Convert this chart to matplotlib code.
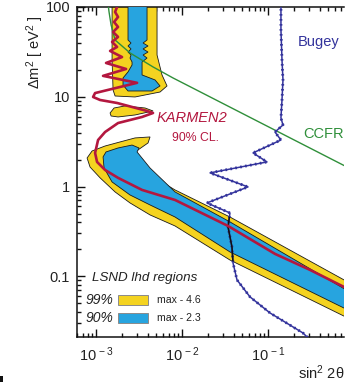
import matplotlib
matplotlib.use("Agg")
import matplotlib.pyplot as plt
from matplotlib.patches import Polygon, Rectangle
from matplotlib.ticker import LogLocator, FixedLocator, FixedFormatter, NullFormatter

plt.rcParams['font.family'] = ['Liberation Sans', 'DejaVu Sans']
plt.rcParams['mathtext.fontset'] = 'custom'
plt.rcParams['mathtext.rm'] = 'Liberation Sans'
plt.rcParams['mathtext.it'] = 'Liberation Sans:italic'
plt.rcParams['mathtext.bf'] = 'Liberation Sans:bold'

# ---- LSND likelihood regions: (sin^2 2theta, dm^2 [eV^2]) outlines ----
lsnd99_high_x = [1.535e-3, 1.535e-3, 1.577e-3, 1.664e-3, 2.84e-3, 5.55e-3, 6.69e-3, 5.85e-3, 5.12e-3, 5.12e-3]
lsnd99_high_y = [150, 25.7, 11.9, 10.2, 9.95, 11.3, 13.2, 17.5, 29.2, 150]

lsnd90_high_x = [2.353e-3, 2.353e-3, 2.550e-3, 2.353e-3, 2.550e-3, 2.353e-3, 2.550e-3, 2.483e-3, 2.621e-3,
                 2.621e-3, 2.353e-3, 2.059e-3, 2.059e-3, 2.353e-3, 4.479e-3, 5.55e-3, 4.853e-3, 3.428e-3,
                 3.428e-3, 3.428e-3, 3.917e-3, 3.521e-3, 4.023e-3, 3.521e-3, 4.023e-3, 3.521e-3, 3.917e-3, 3.917e-3]
lsnd90_high_y = [150, 42.9, 39.7, 36.8, 34.1, 31.5, 29.2, 27.0, 24.4,
                 22.6, 18.9, 16.2, 13.5, 11.6, 11.6, 13.2, 15.4, 17.5,
                 22.6, 24.4, 27.0, 29.2, 31.5, 34.1, 36.8, 39.7, 42.9, 150]

lsnd99_island_x = [1.456e-3, 1.619e-3, 2.172e-3, 3.715e-3, 4.600e-3, 2.840e-3, 1.802e-3, 1.495e-3]
lsnd99_island_y = [6.60, 7.50, 7.91, 7.50, 6.95, 6.27, 5.96, 6.11]

lsnd99_low_x = [7.86e-4, 8.98e-4, 1.273e-3, 1.900e-3, 2.840e-3, 4.245e-3, 4.023e-3, 3.078e-3, 2.483e-3,
                3.428e-3, 5.55e-3, 8.29e-3, 3.61e-2, 1.0, 1.0, 3.61e-2, 8.29e-3, 4.245e-3, 2.483e-3,
                1.664e-3, 1.114e-3, 8.51e-4]
lsnd99_low_y = [2.08, 2.49, 2.83, 3.14, 3.48, 3.57, 3.06, 2.56, 2.19,
                1.65, 1.155, 0.917, 0.458, 0.0793, 0.0318, 0.152, 0.364, 0.483, 0.657,
                0.871, 1.25, 1.65]

lsnd90_low_x = [1.206e-3, 1.306e-3, 1.802e-3, 2.621e-3, 3.162e-3, 2.998e-3, 4.245e-3, 8.29e-3, 3.61e-2,
                1.0, 1.0, 3.61e-2, 8.29e-3, 4.245e-3, 2.483e-3, 1.535e-3, 1.239e-3]
lsnd90_low_y = [2.14, 2.43, 2.69, 2.90, 2.69, 2.43, 1.61, 0.871, 0.404,
                0.0628, 0.0391, 0.187, 0.458, 0.624, 0.806, 1.125, 1.61]

# ---- exclusion curves ----
karmen_x = [1.755e-3, 1.755e-3, 1.664e-3, 1.802e-3, 1.619e-3, 1.802e-3, 1.577e-3, 1.802e-3, 1.535e-3,
            1.755e-3, 1.456e-3, 2.005e-3, 1.306e-3, 2.234e-3, 1.206e-3, 2.998e-3, 9.74e-4, 9.23e-4,
            1.114e-3, 1.755e-3, 3.917e-3, 4.600e-3, 3.428e-3, 1.802e-3, 1.273e-3, 1.055e-3, 9.74e-4,
            1.027e-3, 1.273e-3, 1.802e-3, 3.428e-3, 8.29e-3, 3.43e-2, 0.1205, 0.308, 1.0]
karmen_y = [150, 100, 88.0, 77.4, 68.1, 59.9, 52.7, 46.4, 40.8,
            35.9, 32.4, 27.7, 23.8, 20.4, 17.1, 14.3, 11.0, 9.95,
            9.21, 8.53, 6.95, 6.60, 5.96, 5.10, 4.05, 3.30, 2.37,
            1.88, 1.53, 1.25, 0.917, 0.709, 0.364, 0.178, 0.118, 0.0670]

ccfr_x = [1.36e-3, 1.416e-3, 1.495e-3, 1.664e-3, 2.483e-3, 4.600e-3, 7.86e-3, 0.745, 1.0]
ccfr_y = [119.7, 88.0, 63.1, 42.9, 30.8, 21.5, 16.2, 1.74, 1.51]

bugey_x = [0.1415, 0.1415, 0.1455, 0.1494, 0.1455, 0.1415, 0.1494, 0.1205, 0.1415, 0.0670, 0.0973,
           0.0212, 0.0585, 0.0195, 0.0361, 0.0343, 0.0381, 0.0392, 0.0436, 0.0618, 0.1055, 0.255, 0.308]
bugey_y = [150, 55.5, 25.7, 15.4, 9.21, 5.81, 4.85, 4.05, 3.30, 2.37, 1.88,
           1.42, 0.991, 0.657, 0.508, 0.355, 0.212, 0.141, 0.0912, 0.0590, 0.0391, 0.0234, 0.0196]

yticks = [0.1, 1, 10, 100]
ytick_labels = ['0.1', '1', '10', '100']
xticks = [1e-3, 1e-2, 1e-1]
xtick_labels = [r'$\mathregular{10^{\,-3}}$', r'$\mathregular{10^{\,-2}}$', r'$\mathregular{10^{\,-1}}$']

YELLOW = '#f4d320'
BLUE = '#27a4df'
RED = '#b3173f'
GREEN = '#2f8f3a'
NAVY = '#33339c'

W, H = 349, 382
fig = plt.figure(figsize=(W / 100, H / 100), dpi=100)
fig.patch.set_facecolor('white')


def fx(p):
    return p / W


def fy(p):
    return 1 - p / H


ax = fig.add_axes([fx(77), fy(337), fx(344) - fx(77), fy(7) - fy(337)])
ax.set_xscale('log')
ax.set_yscale('log')
ax.set_xlim(6.0e-4, 0.766)
ax.set_ylim(0.0211, 100)

edge = dict(edgecolor='#1a1a1a', linewidth=0.6)
yellow_low = Polygon(list(zip(lsnd99_low_x, lsnd99_low_y)), closed=True, facecolor=YELLOW, zorder=2, **edge)
ax.add_patch(yellow_low)
ax.add_patch(Polygon(list(zip(lsnd99_high_x, lsnd99_high_y)), closed=True, facecolor=YELLOW, zorder=2, **edge))
ax.add_patch(Polygon(list(zip(lsnd99_island_x, lsnd99_island_y)), closed=True, facecolor=YELLOW, zorder=2, **edge))
ax.add_patch(Polygon(list(zip(lsnd90_low_x, lsnd90_low_y)), closed=True, facecolor=BLUE, zorder=3, **edge))
ax.add_patch(Polygon(list(zip(lsnd90_high_x, lsnd90_high_y)), closed=True, facecolor=BLUE, zorder=3, **edge))

ax.plot(ccfr_x, ccfr_y, color=GREEN, lw=1.0, zorder=4)
ax.plot(bugey_x, bugey_y, color=NAVY, lw=1.1, zorder=4)
ax.plot(bugey_x, bugey_y, color=NAVY, lw=2.0, ls=(0, (0.6, 1.2)), zorder=4)
dark, = ax.plot(bugey_x, bugey_y, color='#111111', lw=1.1, zorder=4.5)
dark.set_clip_path(yellow_low)
ax.plot(karmen_x, karmen_y, color=RED, lw=1.9, zorder=5)

# axes frame and ticks
ax.spines['right'].set_visible(False)
for s in ('left', 'bottom', 'top'):
    ax.spines[s].set_linewidth(1.1)
    ax.spines[s].set_color('#111111')
ax.yaxis.set_major_locator(FixedLocator(yticks))
ax.yaxis.set_major_formatter(FixedFormatter(ytick_labels))
ax.xaxis.set_major_locator(FixedLocator(xticks))
ax.xaxis.set_major_formatter(FixedFormatter(xtick_labels))
ax.yaxis.set_minor_locator(LogLocator(base=10, subs=range(2, 10), numticks=20))
ax.xaxis.set_minor_locator(LogLocator(base=10, subs=range(2, 10), numticks=20))
ax.yaxis.set_minor_formatter(NullFormatter())
ax.xaxis.set_minor_formatter(NullFormatter())
ax.tick_params(which='both', direction='in', top=True, right=False, color='#111111', width=1.0,
               labelsize=10.5, labelcolor='#222222')
ax.tick_params(which='major', length=5.5)
ax.tick_params(which='minor', length=2.8)
ax.tick_params(axis='y', pad=5)
ax.tick_params(axis='x', pad=6)

# labels
fig.text(fx(35), fy(52), r'$\mathregular{\Delta m^2}$ [ eV$^\mathregular{2}$ ]', rotation=90,
         ha='center', va='center', fontsize=10.5, color='#222222')
fig.text(fx(298), fy(373), r'sin$^\mathregular{2}$ 2θ', ha='left', va='center', fontsize=10.5, color='#222222')

ax.text(fx(298), fy(42), 'Bugey', transform=fig.transFigure, ha='left', va='center',
        fontsize=10.5, color=NAVY)
ax.text(fx(303), fy(134), 'CCFR', transform=fig.transFigure, ha='left', va='center',
        fontsize=10.5, color=GREEN)
ax.text(fx(157), fy(118), 'KARMEN2', transform=fig.transFigure, ha='left', va='center',
        fontsize=10.5, color=RED, style='italic')
ax.text(fx(172), fy(138), '90% CL.', transform=fig.transFigure, ha='left', va='center',
        fontsize=8.8, color=RED)

# legend block
ax.text(fx(92), fy(278), 'LSND lhd regions', transform=fig.transFigure, ha='left', va='center',
        fontsize=9.6, style='italic', color='#222222')
for yc, lab, col, note in ((300, '99%', YELLOW, 'max - 4.6'), (318, '90%', BLUE, 'max - 2.3')):
    fig.text(fx(86), fy(yc), lab, ha='left', va='center', fontsize=10, style='italic', color='#222222')
    fig.patches.append(Rectangle((fx(118), fy(yc + 5)), fx(148) - fx(118), fy(yc - 5) - fy(yc + 5),
                                 transform=fig.transFigure, facecolor=col, edgecolor='#8a8a8a',
                                 linewidth=0.7))
    fig.text(fx(157), fy(yc), note, ha='left', va='center', fontsize=7.6, color='#222222')

fig.patches.append(Rectangle((0, 0), fx(3), 1 - fy(6), transform=fig.transFigure,
                             facecolor='#111111', edgecolor='none'))

fig.savefig('out.png', dpi=100)
